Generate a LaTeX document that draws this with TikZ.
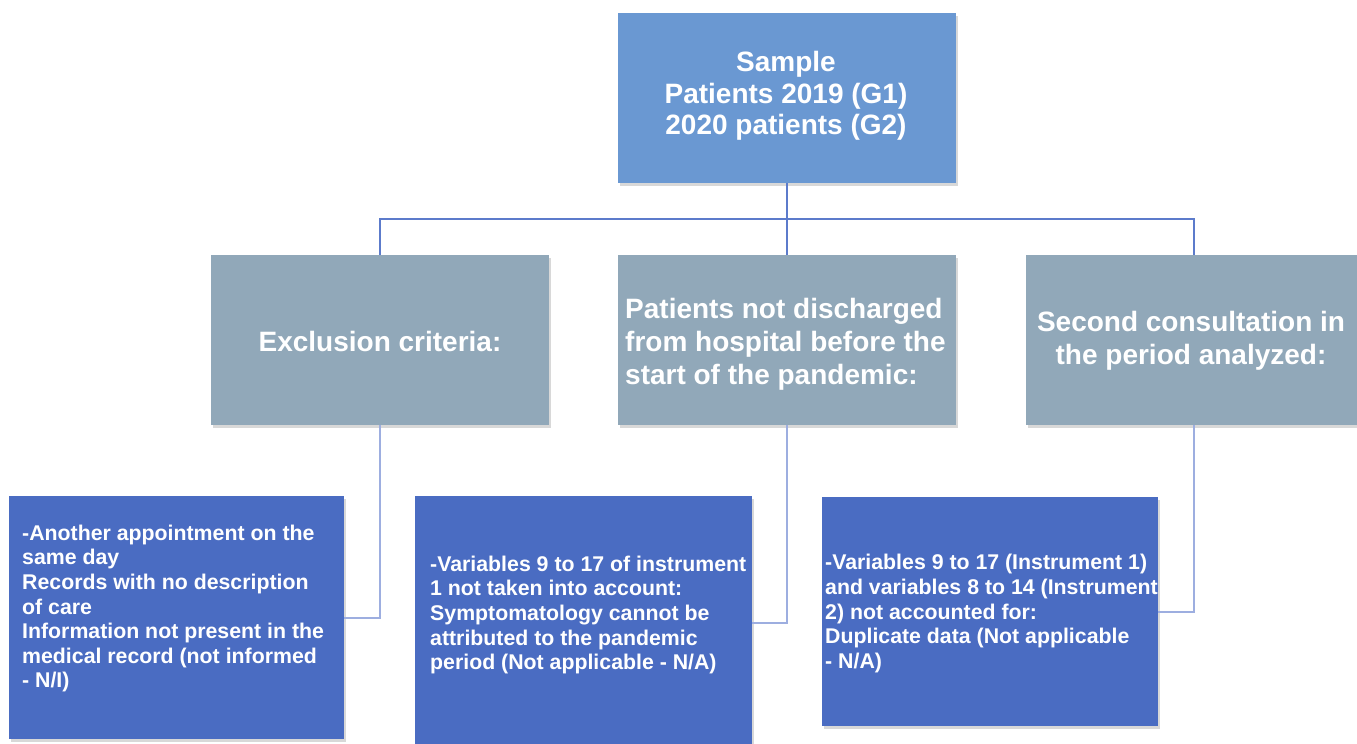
\documentclass[tikz,border=0pt]{standalone}
\usepackage{fontspec}
\setmainfont{Liberation Sans}
\usetikzlibrary{shadows}
\definecolor{topblue}{HTML}{6A98D2}
\definecolor{midgrey}{HTML}{91A8B9}
\definecolor{botblue}{HTML}{4A6CC2}
\definecolor{linedark}{HTML}{5C7BCB}
\definecolor{linelight}{HTML}{9DAEE0}
\begin{document}
\begin{tikzpicture}[x=1pt,y=-1pt,
  box/.style={rectangle, draw=none, inner sep=0pt,
    drop shadow={shadow xshift=2pt,shadow yshift=-3pt,opacity=0.3}},
  bigtext/.style={text=white, inner sep=0pt, align=center,
    font=\fontsize{28}{32.5}\selectfont\bfseries},
  smalltext/.style={text=white, inner sep=0pt, align=left, anchor=west,
    font=\fontsize{21.3}{24.6}\selectfont\bfseries},
  darkline/.style={draw=linedark, line width=2pt},
  lightline/.style={draw=linelight, line width=2pt}]
\clip (0,0) rectangle (1357,744);
\fill[white] (0,0) rectangle (1357,744);
\useasboundingbox (0,0) rectangle (1357,744);

% boxes
\node[box, fill=topblue, minimum width=338pt, minimum height=170pt] (sample) at (787,98) {};
\node[box, fill=midgrey, minimum width=338pt, minimum height=170pt] (excl) at (380,340) {};
\node[box, fill=midgrey, minimum width=338pt, minimum height=170pt] (patients) at (787,340) {};
\node[box, fill=midgrey, minimum width=336pt, minimum height=170pt] (second) at (1194,340) {};
\node[box, fill=botblue, minimum width=335pt, minimum height=243pt] (b1) at (176.5,617.5) {};
\node[box, fill=botblue, minimum width=337pt, minimum height=254pt] (b2) at (583.5,623) {};
\node[box, fill=botblue, minimum width=336pt, minimum height=229pt] (b3) at (990,611.5) {};

% texts
\node[bigtext, font=\fontsize{28}{31.5}\selectfont\bfseries] (tsample) at (786,96) {Sample\\Patients 2019 (G1)\\2020 patients (G2)};
\node[bigtext] (texcl) at (380,341) {Exclusion criteria:};
\node[bigtext, align=left, anchor=west, font=\fontsize{28}{33}\selectfont\bfseries] (tpat) at (625,344) {Patients not discharged\\from hospital before the\\start of the pandemic:};
\node[bigtext, font=\fontsize{28}{33}\selectfont\bfseries] (tsec) at (1191,341) {Second consultation in\\the period analyzed:};
\node[smalltext] (tb1) at (22,608.5) {-Another appointment on the\\same day\\Records with no description\\of care\\Information not present in the\\medical record (not informed\\- N/I)};
\node[smalltext] (tb2) at (430,615) {-Variables 9 to 17 of instrument\\1 not taken into account:\\Symptomatology cannot be\\attributed to the pandemic\\period (Not applicable - N/A)};
\node[smalltext] (tb3) at (825,613.5) {-Variables 9 to 17 (Instrument 1)\\and variables 8 to 14 (Instrument\\2) not accounted for:\\Duplicate data (Not applicable\\- N/A)};

% connectors
\coordinate (bus) at (0,219);
\draw[darkline] (sample.south) -- (patients.north);
\draw[darkline] (excl.north) -- (excl.north |- bus) -- (second.north |- bus) -- (second.north);
\draw[lightline] (excl.south) |- (b1.east);
\draw[lightline] (patients.south) |- (b2.east);
\draw[lightline] (second.south) |- (b3.east);
\end{tikzpicture}
\end{document}
